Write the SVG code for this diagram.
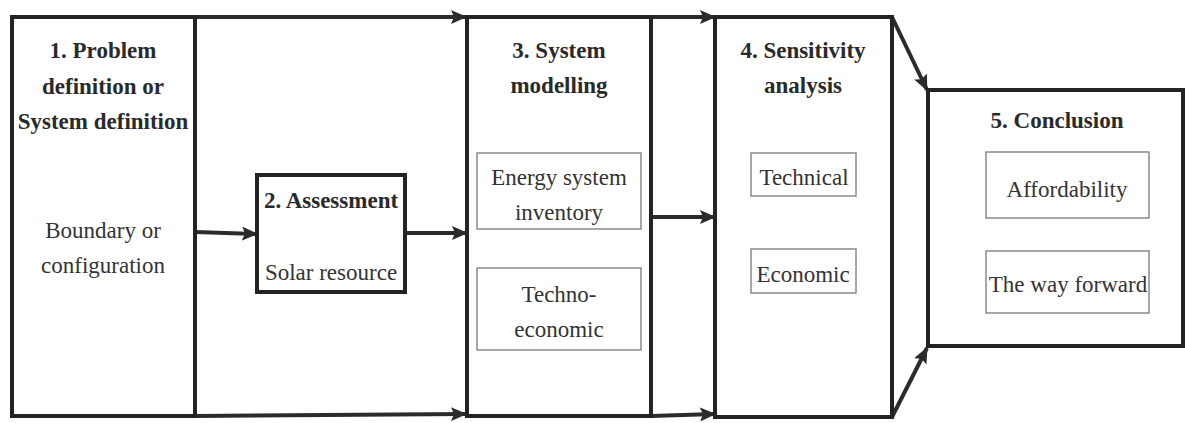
<svg xmlns="http://www.w3.org/2000/svg" width="1185" height="423" viewBox="0 0 1185 423">
  <defs>
    <marker id="arrow" markerUnits="userSpaceOnUse" markerWidth="16" markerHeight="14" refX="15" refY="7" orient="auto">
      <path d="M0,0 L16,7 L0,14 L3,7 z" fill="#2b2b2b"/>
    </marker>
  </defs>
  <rect width="1185" height="423" fill="#fff"/>

  <!-- connectors -->
  <g id="connectors" fill="none" stroke="#2b2b2b" stroke-width="4">
    <path d="M195,17 L466,17" marker-end="url(#arrow)"/>
    <path d="M195,416 L466,414" marker-end="url(#arrow)"/>
    <path d="M195,232 L257,234" marker-end="url(#arrow)"/>
    <path d="M405,233 L467,233" marker-end="url(#arrow)"/>
    <path d="M651,17 L715,17" marker-end="url(#arrow)"/>
    <path d="M651,217 L715,217" marker-end="url(#arrow)"/>
    <path d="M651,416 L715,414" marker-end="url(#arrow)"/>
    <path d="M892,17 L927,90" marker-end="url(#arrow)"/>
    <path d="M892,417 L927,348" marker-end="url(#arrow)"/>
  </g>

  <!-- 1. Problem definition -->
  <g id="node-problem">
    <rect x="12" y="17" width="183" height="399" fill="#fff" stroke="#232323" stroke-width="4"/>
    <text x="103" y="58" style="font-family: 'Liberation Serif'; font-size: 23px; font-weight: bold" fill="#2a2a2a" text-anchor="middle">1. Problem</text>
    <text x="103" y="94" style="font-family: 'Liberation Serif'; font-size: 23px; font-weight: bold" fill="#2a2a2a" text-anchor="middle">definition or</text>
    <text x="103" y="129" style="font-family: 'Liberation Serif'; font-size: 23px; font-weight: bold" fill="#2a2a2a" text-anchor="middle">System definition</text>
    <text x="103" y="238" style="font-family: 'Liberation Serif'; font-size: 23px" fill="#333" text-anchor="middle">Boundary or</text>
    <text x="103" y="273" style="font-family: 'Liberation Serif'; font-size: 23px" fill="#333" text-anchor="middle">configuration</text>
  </g>

  <!-- 2. Assessment -->
  <g id="node-assessment">
    <rect x="257" y="175" width="148" height="117" fill="#fff" stroke="#232323" stroke-width="4"/>
    <text x="331" y="208" style="font-family: 'Liberation Serif'; font-size: 23px; font-weight: bold" fill="#2a2a2a" text-anchor="middle">2. Assessment</text>
    <text x="331" y="280" style="font-family: 'Liberation Serif'; font-size: 23px" fill="#333" text-anchor="middle">Solar resource</text>
  </g>

  <!-- 3. System modelling -->
  <g id="node-modelling">
    <rect x="467" y="17" width="184" height="399" fill="#fff" stroke="#232323" stroke-width="4"/>
    <text x="559" y="58" style="font-family: 'Liberation Serif'; font-size: 23px; font-weight: bold" fill="#2a2a2a" text-anchor="middle">3. System</text>
    <text x="559" y="93" style="font-family: 'Liberation Serif'; font-size: 23px; font-weight: bold" fill="#2a2a2a" text-anchor="middle">modelling</text>
    <rect x="477" y="153" width="164" height="76" fill="#fff" stroke="#8a8a8a" stroke-width="1.5"/>
    <text x="559" y="185" style="font-family: 'Liberation Serif'; font-size: 23px" fill="#333" text-anchor="middle">Energy system</text>
    <text x="559" y="220" style="font-family: 'Liberation Serif'; font-size: 23px" fill="#333" text-anchor="middle">inventory</text>
    <rect x="477" y="268" width="164" height="82" fill="#fff" stroke="#8a8a8a" stroke-width="1.5"/>
    <text x="559" y="302" style="font-family: 'Liberation Serif'; font-size: 23px" fill="#333" text-anchor="middle">Techno-</text>
    <text x="559" y="337" style="font-family: 'Liberation Serif'; font-size: 23px" fill="#333" text-anchor="middle">economic</text>
  </g>

  <!-- 4. Sensitivity analysis -->
  <g id="node-sensitivity">
    <rect x="715" y="17" width="177" height="400" fill="#fff" stroke="#232323" stroke-width="4"/>
    <text x="803" y="58" style="font-family: 'Liberation Serif'; font-size: 23px; font-weight: bold" fill="#2a2a2a" text-anchor="middle">4. Sensitivity</text>
    <text x="803" y="93" style="font-family: 'Liberation Serif'; font-size: 23px; font-weight: bold" fill="#2a2a2a" text-anchor="middle">analysis</text>
    <rect x="751" y="153" width="105" height="43" fill="#fff" stroke="#8a8a8a" stroke-width="1.5"/>
    <text x="804" y="185" style="font-family: 'Liberation Serif'; font-size: 23px" fill="#333" text-anchor="middle">Technical</text>
    <rect x="751" y="249" width="105" height="44" fill="#fff" stroke="#8a8a8a" stroke-width="1.5"/>
    <text x="803" y="282" style="font-family: 'Liberation Serif'; font-size: 23px" fill="#333" text-anchor="middle">Economic</text>
  </g>

  <!-- 5. Conclusion -->
  <g id="node-conclusion">
    <rect x="928" y="90" width="255" height="256" fill="#fff" stroke="#232323" stroke-width="4"/>
    <text x="1057" y="128" style="font-family: 'Liberation Serif'; font-size: 23px; font-weight: bold" fill="#2a2a2a" text-anchor="middle">5. Conclusion</text>
    <rect x="986" y="152" width="163" height="66" fill="#fff" stroke="#8a8a8a" stroke-width="1.5"/>
    <text x="1067" y="197" style="font-family: 'Liberation Serif'; font-size: 23px" fill="#333" text-anchor="middle">Affordability</text>
    <rect x="986" y="251" width="163" height="62" fill="#fff" stroke="#8a8a8a" stroke-width="1.5"/>
    <text x="1068" y="292" style="font-family: 'Liberation Serif'; font-size: 23px" fill="#333" text-anchor="middle">The way forward</text>
  </g>
</svg>
